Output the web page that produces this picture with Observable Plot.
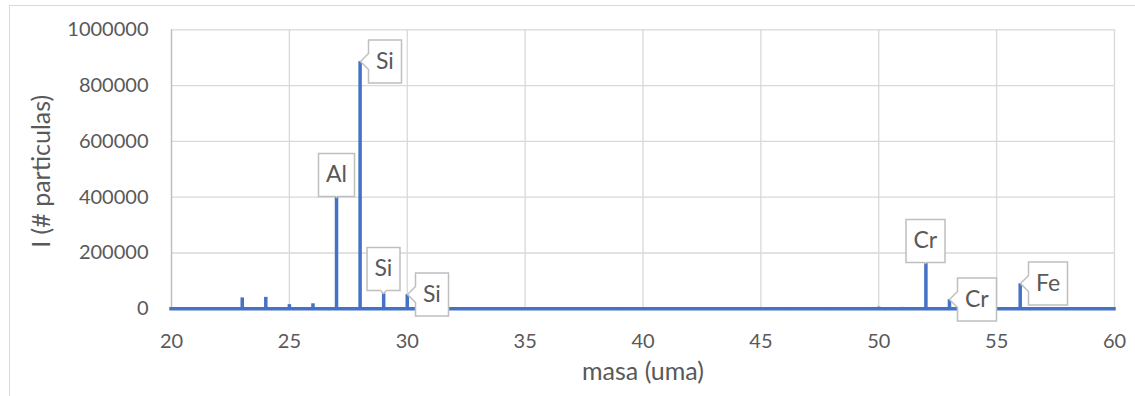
<!DOCTYPE html>
<html>
<head>
<meta charset="utf-8">
<script src="https://cdn.jsdelivr.net/npm/d3@7"></script>
<script src="https://cdn.jsdelivr.net/npm/@observablehq/plot@0.6"></script>
<style>
  html, body { margin: 0; padding: 0; background: #fff; }
  #chart { position: relative; width: 1135px; height: 396px; overflow: hidden; }
  #border { position: absolute; left: 9px; top: 5px; width: 1140px; height: 400px;
            border: 1.5px solid #d9d9d9; box-sizing: border-box; }
  #chart svg { position: absolute; left: 0; top: 0; }
  g[aria-label="tip"] text, g[aria-label="tip"] tspan { fill: #595959; stroke: none; font-size: 23px; }
</style>
</head>
<body>
<div id="chart"><div id="border"></div></div>
<script>
// Mass spectrum: peak positions (uma) and intensities (# particles)
const masses      = [23, 24, 25, 26, 27, 28, 29, 30, 39, 40, 45, 46, 47, 48, 50, 51, 52, 53, 56, 57, 58];
const intensities = [39000, 41000, 15000, 18000, 399000, 886000, 54000, 51000, 3000, 3000,
                     3000, 3000, 3000, 3000, 6000, 5000, 163000, 33000, 90000, 4000, 4000];

// Element labels attached to selected peaks
const labelMasses = [27, 28, 29, 30, 52, 53, 56];
const labelTexts  = ["Al", "Si", "Si", "Si", "Cr", "Cr", "Fe"];

const xTicks = [20, 25, 30, 35, 40, 45, 50, 55, 60];
const yTicks = [0, 200000, 400000, 600000, 800000, 1000000];

const xTitle = "masa (uma)";
const yTitle = "I (# particulas)";

const peaks = masses.map((m, i) => ({mass: m, intensity: intensities[i]}));
const labels = labelMasses.map((m, i) => ({
  mass: m,
  intensity: intensities[masses.indexOf(m)],
  label: labelTexts[i]
}));

const blue = "#4472C4";
const text = "#595959";

const tipStyle = {
  x: "mass", y: "intensity", title: "label",
  fill: "white", stroke: "#bfbfbf", strokeWidth: 1.5,
  fontSize: 23, fontFamily: "Lato", textPadding: 7.5, lineHeight: 1,
  pathFilter: "none"
};

const chart = Plot.plot({
  width: 1135,
  height: 396,
  marginLeft: 171,
  marginRight: 21,
  marginTop: 29.3,
  marginBottom: 87.7,
  style: {fontFamily: "Lato", color: text, background: "transparent"},
  x: {domain: [20, 60]},
  y: {domain: [0, 1000000]},
  marks: [
    Plot.gridY(yTicks, {stroke: "#d9d9d9", strokeOpacity: 1, strokeWidth: 1.3}),
    Plot.gridX(xTicks.slice(1), {stroke: "#d9d9d9", strokeOpacity: 1, strokeWidth: 1.3}),
    Plot.ruleX([20], {stroke: "#bfbfbf", strokeWidth: 1.5}),
    Plot.axisY(yTicks, {tickSize: 0, tickPadding: 23, fontSize: 20, tickFormat: d => String(d), label: null}),
    Plot.axisX(xTicks, {tickSize: 0, tickPadding: 25, fontSize: 20, tickFormat: d => String(d), label: null}),
    Plot.text([xTitle], {frameAnchor: "bottom", dy: 71, fontSize: 25, fill: text}),
    Plot.text([yTitle], {frameAnchor: "left", textAnchor: "middle", rotate: -90, dx: -130, dy: 2, fontSize: 25, fill: text}),
    // spectrum baseline and peaks
    Plot.ruleY([0], {x1: 20, x2: 60, stroke: blue, strokeWidth: 3.5, strokeLinecap: "square"}),
    Plot.ruleX(peaks, {x: "mass", y1: 0, y2: "intensity", stroke: blue, strokeWidth: 3.5}),
    // callouts: boxes above the Al / Cr-52 peaks, with a short pointer for Si-29
    Plot.tip(labels.filter(d => d.mass === 27 || d.mass === 52), {...tipStyle, anchor: "bottom", pointerSize: 2}),
    Plot.tip(labels.filter(d => d.mass === 29), {...tipStyle, anchor: "bottom", pointerSize: 6}),
    // callouts to the right of their peaks
    Plot.tip(labels.filter(d => [28, 30, 53, 56].includes(d.mass)), {...tipStyle, anchor: "left", pointerSize: 16})
  ]
});

document.getElementById("chart").appendChild(chart);
</script>
</body>
</html>
